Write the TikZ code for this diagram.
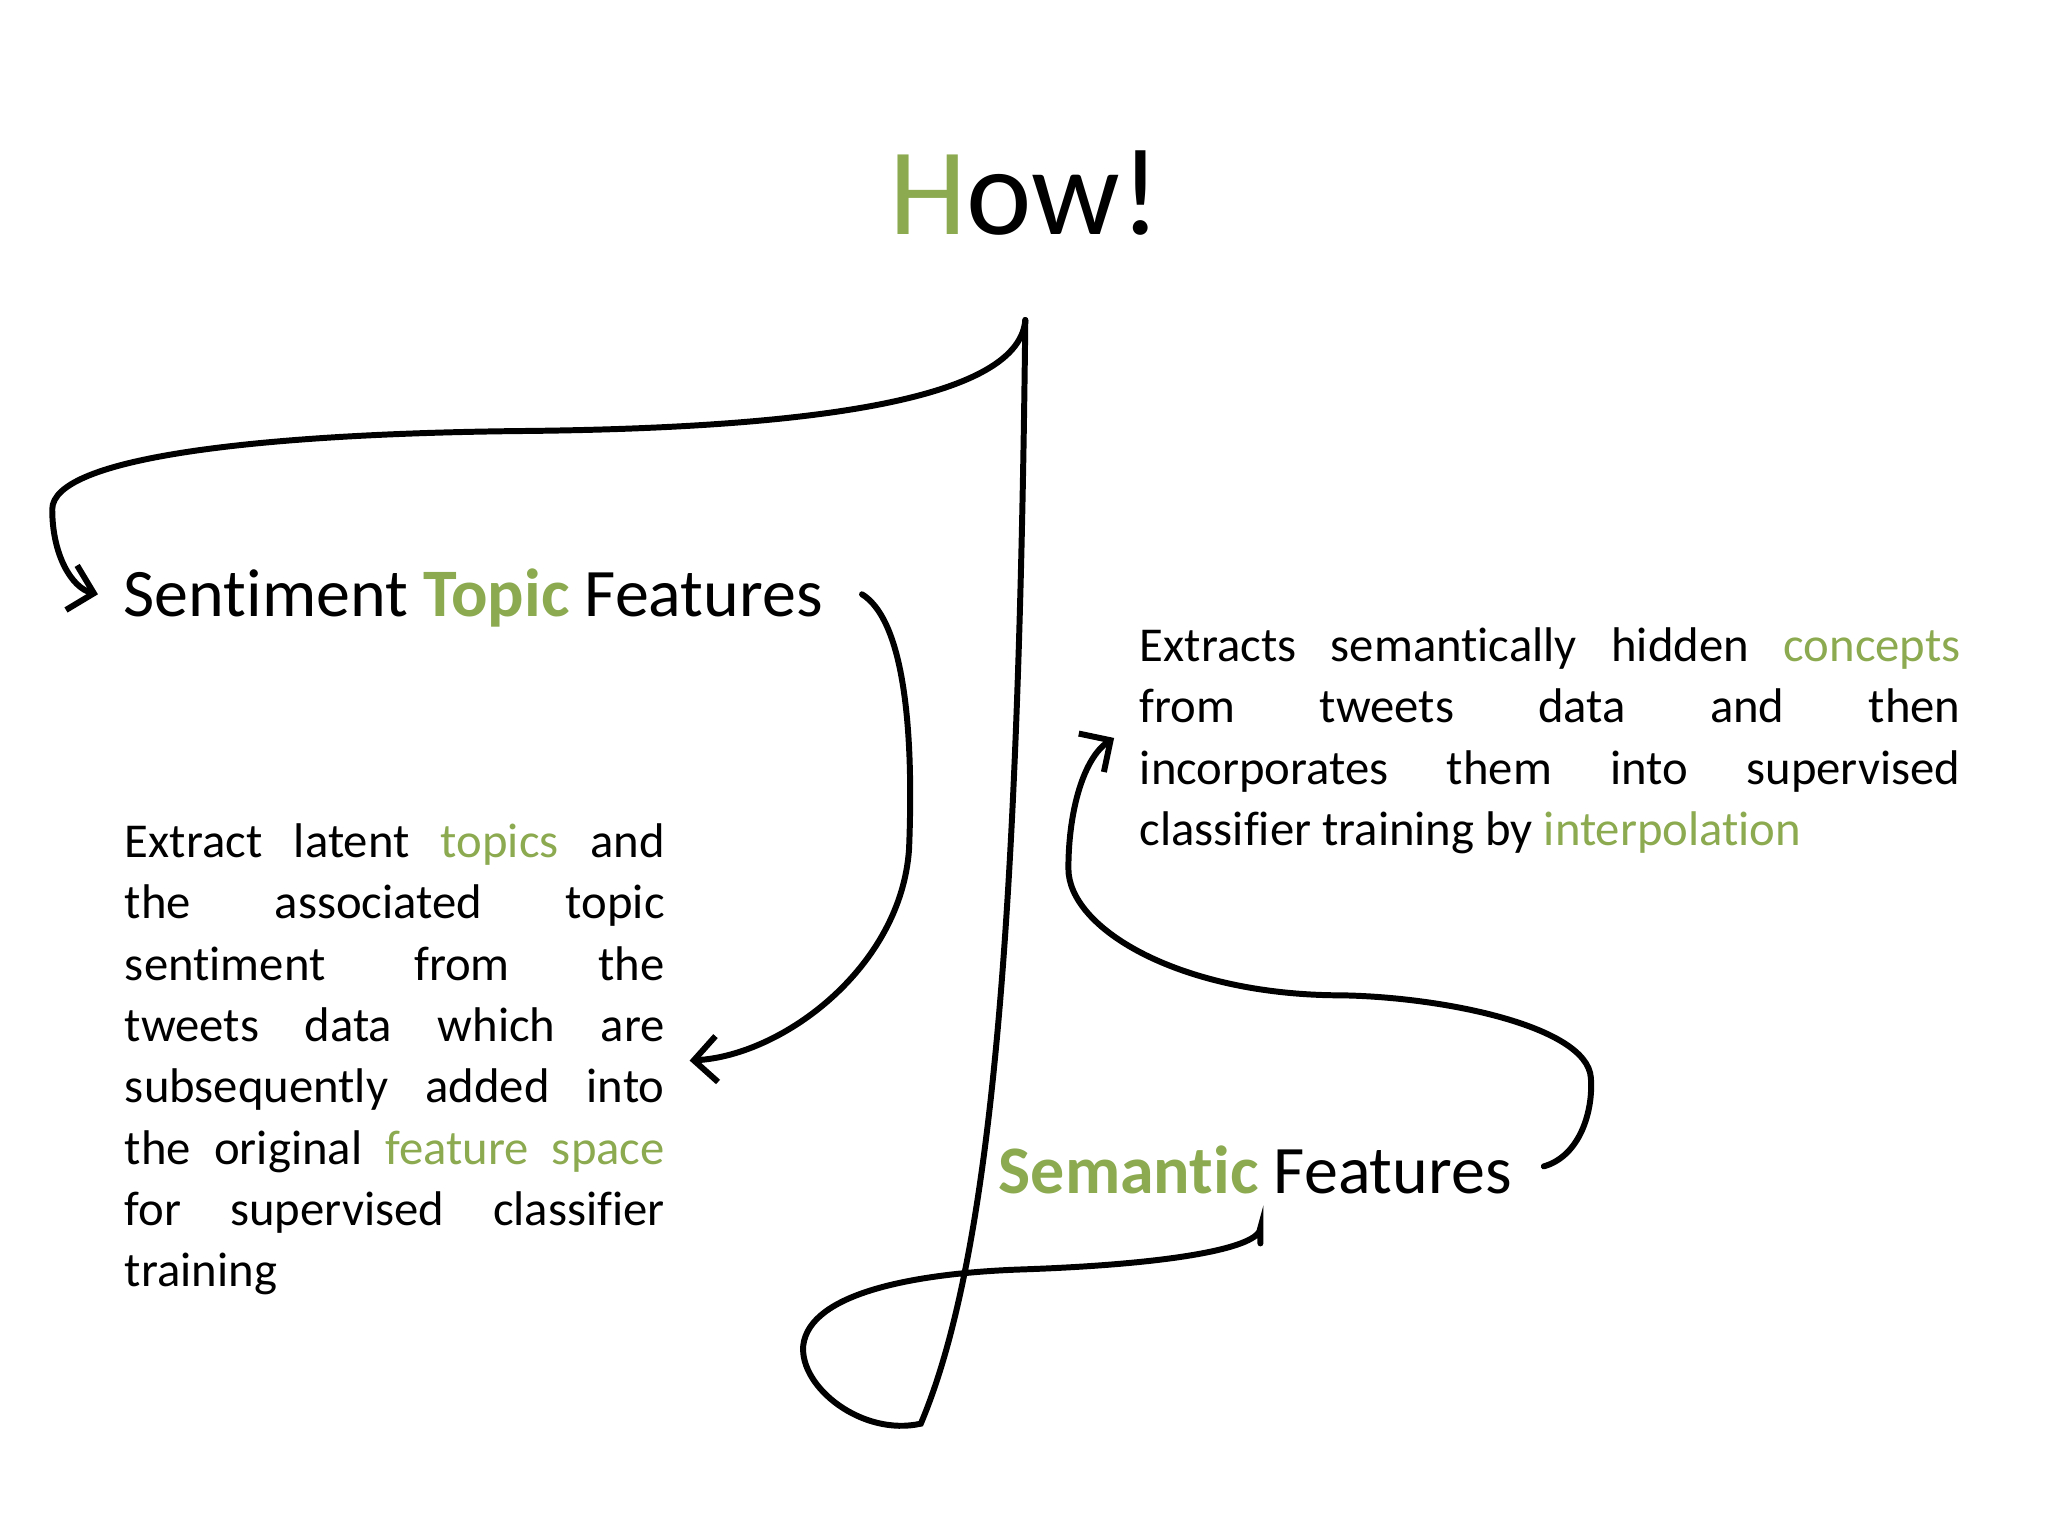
\documentclass[tikz,border=0pt]{standalone}
\usepackage{fontspec}
\setmainfont{Carlito}[Ligatures=NoCommon]
\usetikzlibrary{arrows.meta}
\definecolor{gr}{RGB}{140,170,80}
\begin{document}
\begin{tikzpicture}[x=0.01cm,y=-0.01cm,
  curve/.style={line width=1.3pt,line cap=round},
  arr/.style={curve,-{Straight Barb[length=5pt,width=10pt]}},
  para/.style={anchor=north west,inner sep=0pt,font=\fontsize{10.6pt}{13.35pt}\selectfont}]
\useasboundingbox[fill=white] (0,0) rectangle (1568,1176);
\node[anchor=center,font=\fontsize{27pt}{32pt}\selectfont] (how) at (785,148) {\textcolor{gr}{H}ow!};
\coordinate (top) at (785,245);
\node[anchor=west,inner sep=0pt,font=\fontsize{14.8pt}{18pt}\selectfont] (stf) at (94,458) {Sentiment \textcolor{gr}{\textbf{Topic}} Features};
\node[anchor=west,inner sep=0pt,font=\fontsize{14.8pt}{18pt}\selectfont] (sf) at (764,896) {\textcolor{gr}{\textbf{Semantic}} Features};
\node[para] (lp) at (95,630) {\parbox[t]{4.13cm}{\hyphenpenalty=10000\exhyphenpenalty=10000\setlength{\parfillskip}{0pt plus 1fil}Extract latent \textcolor{gr}{topics} and\linebreak the associated topic\linebreak sentiment from the\linebreak tweets data which are\linebreak subsequently added into\linebreak the original \textcolor{gr}{feature space}\linebreak for supervised classifier\linebreak training}};
\node[para] (rp) at (872,480) {\parbox[t]{6.28cm}{\hyphenpenalty=10000\exhyphenpenalty=10000 Extracts semantically hidden \textcolor{gr}{concepts}\linebreak from tweets data and then\linebreak incorporates them into supervised\linebreak classifier training by \textcolor{gr}{interpolation}}};
\coordinate (a1) at (75,455);
\coordinate (s1) at (660,455);
\coordinate (a2) at (528,812);
\coordinate (e3) at (965,940);
\coordinate (s4) at (1182,893);
\coordinate (a4) at (853,565);
\draw[arr] (top) .. controls (780,310) and (600,328) .. (400,330) .. controls (200,332) and (40,350) .. (40,390) .. controls (40,425) and (55,450) .. (a1);
\draw[arr] (s1) .. controls (700,480) and (698,600) .. (696,650) .. controls (690,740) and (600,808) .. (a2);
\draw[curve] (top) .. controls (780,700) and (760,960) .. (705,1090) .. controls (660,1100) and (612,1062) .. (615,1030) .. controls (620,990) and (700,975) .. (780,972) .. controls (900,968) and (965,955) .. (e3) -- (965,952);
\draw[arr] (s4) .. controls (1210,885) and (1220,850) .. (1218,825) .. controls (1215,785) and (1100,762) .. (1020,762) .. controls (900,760) and (818,710) .. (818,665) .. controls (818,620) and (830,580) .. (a4);
\end{tikzpicture}
\end{document}
